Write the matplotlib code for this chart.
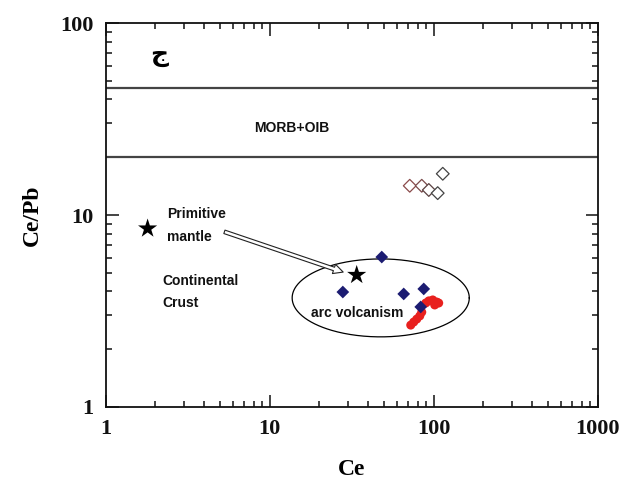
import numpy as np
import matplotlib
matplotlib.use("Agg")
import matplotlib.pyplot as plt
from matplotlib.patches import FancyArrowPatch
from matplotlib.ticker import LogLocator, FixedLocator, NullFormatter

# ---- data ----
arc_ce = [48.2, 27.9, 65.6, 86.9, 83.3]
arc_ratio = [6.04, 3.97, 3.88, 4.12, 3.32]

red_ce = [72.4, 75.5, 78.8, 82.2, 84.5, 89.4, 93.3, 98.6, 104.3, 107.2, 101.4]
red_ratio = [2.67, 2.77, 2.87, 2.98, 3.12, 3.48, 3.57, 3.61, 3.52, 3.48, 3.40]

open_ce = [71.4, 84.5, 93.3, 105.7, 113.5]
open_ratio = [14.2, 14.2, 13.5, 13.0, 16.4]
open_colors = ["#8a4a4a", "#7a4a4a", "#5a4040", "#444444", "#444444"]

star_ce = [1.8, 33.9]
star_ratio = [8.5, 4.87]

morb_oib_bounds = [20.0, 46.0]

xticks = [1, 10, 100, 1000]
xticklabels = ["1", "10", "100", "1000"]
yticks = [1, 10, 100]
yticklabels = ["1", "10", "100"]

# ellipse (log-space centre and semi-axes in decades)
ell_center = (47.5, 3.70)
ell_axes = (0.54, 0.203)

fig = plt.figure(figsize=(6.22, 4.86), dpi=100)
ax = fig.add_axes([0.170, 0.1626, 0.791, 0.790])
ax.set_xscale("log")
ax.set_yscale("log")
ax.set_xlim(1, 1000)
ax.set_ylim(1, 100)

serif = "Liberation Serif"
sans = "Liberation Sans"

for v in morb_oib_bounds:
    ax.axhline(v, color="#444444", lw=1.6, zorder=2)

t = np.linspace(0, 2 * np.pi, 400)
ex = 10 ** (np.log10(ell_center[0]) + ell_axes[0] * np.cos(t))
ey = 10 ** (np.log10(ell_center[1]) + ell_axes[1] * np.sin(t))
ax.plot(ex, ey, color="black", lw=0.9, zorder=2)

ax.scatter(open_ce, open_ratio, marker="D", s=42, facecolors="white",
           edgecolors=open_colors, linewidths=0.9, zorder=3)
ax.scatter(red_ce, red_ratio, marker="o", s=42, color="#e8201e",
           edgecolors="none", zorder=3)
ax.scatter(arc_ce, arc_ratio, marker="D", s=42, color="#1c1c72",
           edgecolors="none", zorder=4)
ax.scatter(star_ce, star_ratio, marker="*", s=210, color="black",
           edgecolors="none", zorder=5)

arrow = FancyArrowPatch((5.1, 8.26), (29.1, 4.99),
                        arrowstyle="simple,head_length=7,head_width=7,tail_width=2.6",
                        mutation_scale=1, facecolor="white", edgecolor="#222222",
                        lw=0.8, zorder=4)
ax.add_patch(arrow)

tk = dict(fontfamily=sans, fontweight="bold", fontsize=10, color="#111111")
ax.text(2.36, 10.1, "Primitive", va="center", ha="left", **tk)
ax.text(2.36, 7.7, "mantle", va="center", ha="left", **tk)
ax.text(2.23, 4.53, "Continental", va="center", ha="left", **tk)
ax.text(2.23, 3.48, "Crust", va="center", ha="left", **tk)
ax.text(17.8, 3.09, "arc volcanism", va="center", ha="left", **tk)
ax.text(13.6, 28.4, "MORB+OIB", va="center", ha="center", **tk)
ax.text(2.13, 68, "ج", va="center", ha="center", fontsize=18,
        fontfamily="DejaVu Sans", fontweight="bold", color="black")

ax.xaxis.set_major_locator(FixedLocator(xticks))
ax.yaxis.set_major_locator(FixedLocator(yticks))
ax.set_xticklabels(xticklabels)
ax.set_yticklabels(yticklabels)
ax.xaxis.set_minor_locator(LogLocator(base=10, subs=np.arange(2, 10)))
ax.yaxis.set_minor_locator(LogLocator(base=10, subs=np.arange(2, 10)))
ax.xaxis.set_minor_formatter(NullFormatter())
ax.yaxis.set_minor_formatter(NullFormatter())

ax.tick_params(which="both", direction="in", top=True, right=True,
               color="#111111", width=1.1)
ax.tick_params(which="major", length=9, pad=9)
ax.tick_params(which="minor", length=4.5)
for lab in ax.get_xticklabels() + ax.get_yticklabels():
    lab.set_fontfamily(serif)
    lab.set_fontweight("bold")
    lab.set_fontsize(16)
    lab.set_color("#111111")
for s in ax.spines.values():
    s.set_linewidth(1.3)
    s.set_color("#111111")

ax.set_xlabel("Ce", fontfamily=serif, fontweight="bold", fontsize=17, labelpad=14)
ax.set_ylabel("Ce/Pb", fontfamily=serif, fontweight="bold", fontsize=17, labelpad=12)

fig.savefig("out.png", dpi=100)
